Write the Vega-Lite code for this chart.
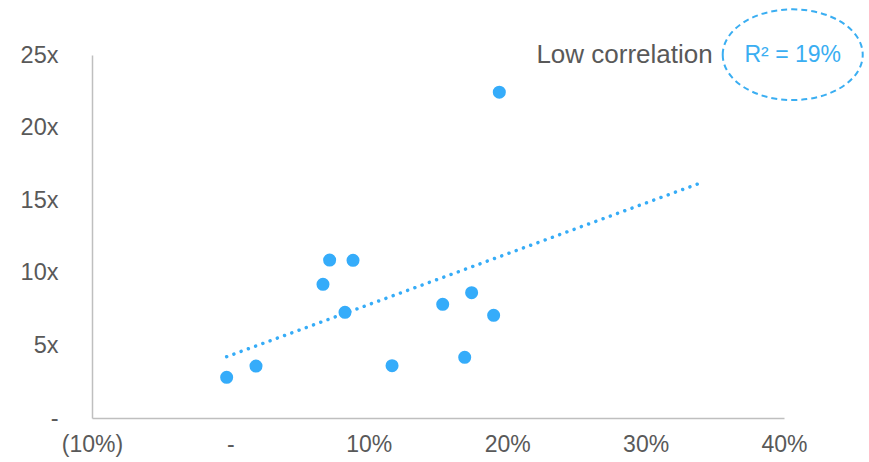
{
  "$schema": "https://vega.github.io/schema/vega-lite/v6.json",
  "width": 692,
  "height": 363,
  "autosize": {"type": "none"},
  "padding": {"left": 92, "top": 55, "right": 85, "bottom": 44},
  "background": "white",
  "config": {"view": {"stroke": null}, "font": "Liberation Sans"},
  "datasets": {
    "points": [
      {"growth": -0.0027, "multiple": 2.80},
      {"growth": 0.0185, "multiple": 3.58},
      {"growth": 0.0669, "multiple": 9.21},
      {"growth": 0.0717, "multiple": 10.88},
      {"growth": 0.0828, "multiple": 7.28},
      {"growth": 0.0886, "multiple": 10.86},
      {"growth": 0.1168, "multiple": 3.60},
      {"growth": 0.1534, "multiple": 7.83},
      {"growth": 0.1693, "multiple": 4.18},
      {"growth": 0.1743, "multiple": 8.63},
      {"growth": 0.1902, "multiple": 7.07},
      {"growth": 0.1943, "multiple": 22.44}
    ],
    "trend": [
      {"growth": -0.0027, "multiple": 4.22},
      {"growth": 0.3395, "multiple": 16.18}
    ],
    "notes": [
      {"growth": 0.3485, "multiple": 25.0, "label": "Low correlation"}
    ],
    "r2": [
      {"growth": 0.4063, "multiple": 25.02, "label": "R² = 19%"}
    ]
  },
  "layer": [
    {
      "data": {"name": "trend"},
      "mark": {"type": "line", "color": "#36acf7", "strokeWidth": 3.5, "strokeDash": [0.01, 7.7], "strokeCap": "round"},
      "encoding": {
        "x": {"field": "growth", "type": "quantitative", "scale": {"domain": [-0.1, 0.4], "nice": false, "zero": false},
          "axis": {"values": [-0.1, 0, 0.1, 0.2, 0.3, 0.4], "title": null, "grid": false, "ticks": false,
            "domainColor": "#bfbfbf", "domainWidth": 1.5, "labelFlush": false, "labelOverlap": false,
            "labelFontSize": 23, "labelColor": "#595959", "labelPadding": 15,
            "labelExpr": "datum.value < -0.0001 ? '(' + format(-datum.value, '.0%') + ')' : (abs(datum.value) < 0.0001 ? '-' : format(datum.value, '.0%'))"}},
        "y": {"field": "multiple", "type": "quantitative", "scale": {"domain": [0, 25], "nice": false},
          "axis": {"values": [0, 5, 10, 15, 20, 25], "title": null, "grid": false, "ticks": false,
            "domainColor": "#bfbfbf", "domainWidth": 1.5, "labelFlush": false,
            "labelFontSize": 23.5, "labelColor": "#595959", "labelPadding": 34,
            "labelExpr": "datum.value == 0 ? '-' : datum.value + 'x'"}}
      }
    },
    {
      "data": {"name": "points"},
      "mark": {"type": "circle", "color": "#35acfa", "opacity": 1, "size": 170},
      "encoding": {
        "x": {"field": "growth", "type": "quantitative"},
        "y": {"field": "multiple", "type": "quantitative"}
      }
    },
    {
      "data": {"name": "notes"},
      "mark": {"type": "text", "align": "right", "baseline": "middle", "fontSize": 26, "color": "#595959"},
      "encoding": {
        "x": {"field": "growth", "type": "quantitative"},
        "y": {"field": "multiple", "type": "quantitative"},
        "text": {"field": "label"}
      }
    },
    {
      "data": {"name": "r2"},
      "mark": {"type": "text", "align": "center", "baseline": "middle", "fontSize": 23, "color": "#3aaef2"},
      "encoding": {
        "x": {"field": "growth", "type": "quantitative"},
        "y": {"field": "multiple", "type": "quantitative"},
        "text": {"field": "label"}
      }
    },
    {
      "data": {"name": "r2"},
      "mark": {"type": "point", "filled": false, "stroke": "#3aaef2", "strokeWidth": 2, "strokeDash": [6, 4], "opacity": 1, "size": 19600,
        "shape": "M-1,0 C-1,-0.358 -0.552,-0.648 0,-0.648 C0.552,-0.648 1,-0.358 1,0 C1,0.358 0.552,0.648 0,0.648 C-0.552,0.648 -1,0.358 -1,0 Z"},
      "encoding": {
        "x": {"field": "growth", "type": "quantitative"},
        "y": {"field": "multiple", "type": "quantitative"}
      }
    }
  ]
}
